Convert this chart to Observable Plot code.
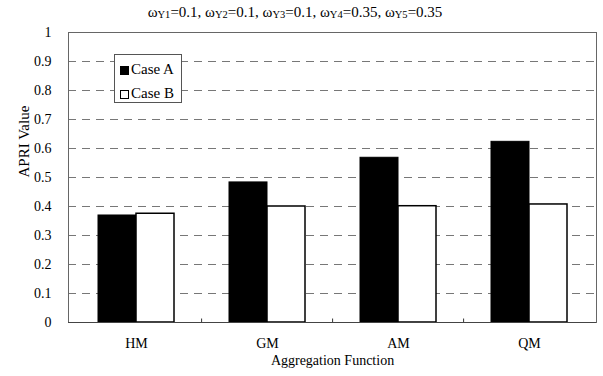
<!DOCTYPE html>
<html>
<head>
<meta charset="utf-8">
<script src="https://cdn.jsdelivr.net/npm/d3@7"></script>
<script src="https://cdn.jsdelivr.net/npm/@observablehq/plot@0.6"></script>
<style>
  html, body { margin: 0; padding: 0; background: #fff; }
  #wrap { position: relative; width: 603px; height: 376px; font-family: "Liberation Serif", "Times New Roman", serif; color: #000; }
  #title { height: 24px; width: 590px; text-align: center; font-size: 15px; line-height: 24px; white-space: nowrap; }
  #title sub { font-size: 10.5px; vertical-align: -1px; line-height: 0; }
  #legend { position: absolute; left: 114px; top: 54px; width: 66px; height: 47px; border: 1px solid #555; background: #fff; font-size: 15px; font-family: "Liberation Serif", serif; }
  .item { position: absolute; left: 5px; height: 16px; line-height: 16px; white-space: nowrap; }
  .sw { display: inline-block; width: 9px; height: 9px; border: 1px solid #000; margin-right: 2px; vertical-align: -1px; box-sizing: border-box; }
  svg { display: block; }
  #chart svg, #chart svg text { font-family: "Liberation Serif", serif !important; }
</style>
</head>
<body>
<div id="wrap">
  <div id="title"></div>
  <div id="chart"></div>
  <div id="legend"></div>
</div>
<script>
// ---- data ----
const categories = ["HM", "GM", "AM", "QM"];
const caseA = [0.369, 0.483, 0.568, 0.623];
const caseB = [0.375, 0.400, 0.401, 0.407];
const seriesNames = ["Case A", "Case B"];
const seriesColors = ["#000000", "#ffffff"];
const yTicks = [0, 0.1, 0.2, 0.3, 0.4, 0.5, 0.6, 0.7, 0.8, 0.9, 1];
const weightLabels = ["Y1", "Y2", "Y3", "Y4", "Y5"];
const weightValues = ["0.1", "0.1", "0.1", "0.35", "0.35"];
const xLabel = "Aggregation Function";
const yLabel = "APRI Value";

// title
document.getElementById("title").innerHTML = weightLabels
  .map((l, i) => `ω<sub>${l}</sub>=${weightValues[i]}`)
  .join(", ");

// legend
document.getElementById("legend").innerHTML = seriesNames
  .map((s, i) => `<div class="item" style="top:${i === 0 ? 6 : 30}px"><span class="sw" style="background:${seriesColors[i]}"></span>${s}</div>`)
  .join("");

const rowsA = categories.map((c, i) => ({category: c, value: caseA[i]}));
const rowsB = categories.map((c, i) => ({category: c, value: caseB[i]}));
const grid = yTicks.filter(t => t > 0 && t < 1);
const serif = "Liberation Serif";

const chart = Plot.plot({
  width: 603,
  height: 352,
  marginTop: 8,
  marginBottom: 54,
  marginLeft: 68,
  marginRight: 7,
  style: {fontFamily: "'Liberation Serif', serif", fontSize: "14px", color: "#000", background: "#fff"},
  x: {domain: categories, paddingInner: 0.4236, paddingOuter: 0.212, tickSize: 0, tickPadding: 16, label: null},
  y: {domain: [0, 1], ticks: yTicks, tickFormat: d => String(+d.toFixed(1)), tickSize: 0, tickPadding: 17, label: null},
  marks: [
    Plot.ruleY(grid, {stroke: "#777", strokeDasharray: "8,6", strokeWidth: 1}),
    Plot.barY(rowsA, {x: "category", y: "value", fill: seriesColors[0], stroke: "#000", strokeWidth: 1, insetRight: 38}),
    Plot.barY(rowsB, {x: "category", y: "value", fill: seriesColors[1], stroke: "#000", strokeWidth: 1.5, insetLeft: 38}),
    Plot.ruleX(categories.slice(1), {x: d => d, dx: -65.9, y1: 0, y2: 0.012, stroke: "#333"}),
    Plot.frame({stroke: "#666"}),
    Plot.ruleY([0], {stroke: "#444"}),
    Plot.text([xLabel], {frameAnchor: "bottom", dy: 42, fontSize: 14, fontFamily: serif}),
    Plot.text([yLabel], {frameAnchor: "left", rotate: -90, dx: -44, fontSize: 15, fontFamily: serif})
  ]
});
document.getElementById("chart").appendChild(chart);
</script>
</body>
</html>
